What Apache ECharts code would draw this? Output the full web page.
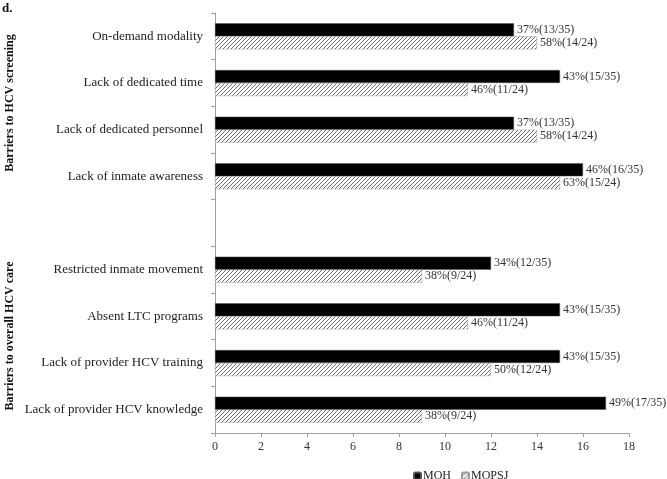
<!DOCTYPE html>
<html>
<head>
<meta charset="utf-8">
<script src="https://cdn.jsdelivr.net/npm/echarts@6/dist/echarts.min.js"></script>
<style>
html,body{margin:0;padding:0;background:#fff;}
#chart{width:667px;height:479px;}
</style>
</head>
<body>
<div id="chart"></div>
<script>
const categories = [
  'On-demand modality',
  'Lack of dedicated time',
  'Lack of dedicated personnel',
  'Lack of inmate awareness',
  '',
  'Restricted inmate movement',
  'Absent LTC programs',
  'Lack of provider HCV training',
  'Lack of provider HCV knowledge'
];
const mohValues   = [13, 15, 13, 16, null, 12, 15, 15, 17];
const mopsjValues = [14, 11, 14, 15, null, 9, 11, 12, 9];
const mohPct   = ['37%', '43%', '37%', '46%', '', '34%', '43%', '43%', '49%'];
const mopsjPct = ['58%', '46%', '58%', '63%', '', '38%', '46%', '50%', '38%'];
const mohTotal = 35;
const mopsjTotal = 24;
const xTicks = [0, 2, 4, 6, 8, 10, 12, 14, 16, 18];

const serif = '"Liberation Serif", "DejaVu Serif", serif';

function hatch() {
  const c = document.createElement('canvas');
  c.width = 4; c.height = 4;
  const ctx = c.getContext('2d');
  ctx.fillStyle = '#ffffff';
  ctx.fillRect(0, 0, 4, 4);
  ctx.strokeStyle = '#6a6a6a';
  ctx.lineWidth = 1;
  ctx.beginPath();
  ctx.moveTo(0, 4); ctx.lineTo(4, 0);
  ctx.moveTo(-1, 1); ctx.lineTo(1, -1);
  ctx.moveTo(3, 5); ctx.lineTo(5, 3);
  ctx.stroke();
  return { image: c, repeat: 'repeat' };
}

const chart = echarts.init(document.getElementById('chart'), null, { renderer: 'canvas' });
chart.setOption({
  animation: false,
  backgroundColor: '#ffffff',
  grid: { left: 215, right: 38, top: 13, bottom: 46, containLabel: false },
  xAxis: {
    type: 'value',
    min: xTicks[0],
    max: xTicks[xTicks.length - 1],
    interval: 2,
    axisLine: { show: true, lineStyle: { color: '#a0a0a0' } },
    axisTick: { show: true, length: 4, lineStyle: { color: '#a0a0a0' } },
    splitLine: { show: false },
    axisLabel: { color: '#333', fontFamily: serif, fontSize: 12, margin: 8 }
  },
  yAxis: {
    type: 'category',
    data: categories,
    inverse: true,
    axisLine: { show: true, lineStyle: { color: '#a0a0a0' } },
    axisTick: { show: true, length: 4, lineStyle: { color: '#a0a0a0' } },
    axisLabel: { color: '#222', fontFamily: serif, fontSize: 13, margin: 12 }
  },
  legend: {
    top: 465,
    left: 408,
    itemWidth: 7,
    itemHeight: 7,
    itemGap: 10,
    textStyle: { color: '#222', fontFamily: serif, fontSize: 12, padding: [0, 0, 0, -3] },
    data: ['MOH', 'MOPSJ']
  },
  graphic: [
    { type: 'text', left: 2, top: 2, style: { text: 'd.', font: 'bold 13px ' + serif, fill: '#111' } },
    { type: 'text', x: 10, y: 103, rotation: Math.PI / 2,
      style: { text: 'Barriers to HCV screening', font: 'bold 12px ' + serif, fill: '#111', align: 'center', verticalAlign: 'middle' } },
    { type: 'text', x: 10, y: 336, rotation: Math.PI / 2,
      style: { text: 'Barriers to overall HCV care', font: 'bold 12px ' + serif, fill: '#111', align: 'center', verticalAlign: 'middle' } }
  ],
  series: [
    {
      name: 'MOH',
      type: 'bar',
      data: mohValues,
      barWidth: 13,
      barGap: '0%',
      itemStyle: { color: '#000000', borderColor: '#555', borderWidth: 0.5 },
      label: {
        show: true, position: 'right', distance: 3,
        color: '#333', fontFamily: serif, fontSize: 12,
        formatter: p => mohPct[p.dataIndex] + '(' + mohValues[p.dataIndex] + '/' + mohTotal + ')'
      }
    },
    {
      name: 'MOPSJ',
      type: 'bar',
      data: mopsjValues,
      barWidth: 13,
      barGap: '0%',
      itemStyle: { color: hatch(), borderColor: '#9a9a9a', borderWidth: 0.5 },
      label: {
        show: true, position: 'right', distance: 3,
        color: '#333', fontFamily: serif, fontSize: 12,
        formatter: p => mopsjPct[p.dataIndex] + '(' + mopsjValues[p.dataIndex] + '/' + mopsjTotal + ')'
      }
    }
  ]
});
</script>
</body>
</html>
